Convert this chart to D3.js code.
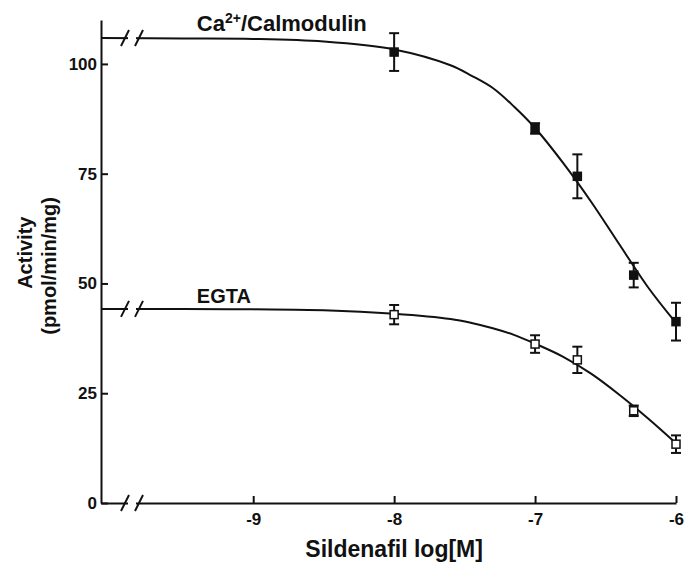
<!DOCTYPE html>
<html>
<head>
<meta charset="utf-8">
<script src="https://cdn.jsdelivr.net/npm/d3@7"></script>
<style>
  body { margin: 0; background: #fff; }
  text { font-family: "Liberation Sans", Arial, sans-serif; font-weight: bold; fill: #111; }
  .axis path, .axis line { stroke: #111; stroke-width: 2; }
</style>
</head>
<body>
<div id="chart"></div>
<script>
// Set chart parameters
var svgWidth = 696;
var svgHeight = 569;

var margin = { top: 20, right: 20, bottom: 66, left: 101 };

var width = svgWidth - margin.left - margin.right;
var height = svgHeight - margin.top - margin.bottom;

// data (log[M] vs activity)
var doses = [-8, -7, -6.7, -6.3, -6];
var caMean = [102.7, 85.3, 74.4, 51.9, 41.3];
var caErr = [4.3, 1.2, 5.0, 2.8, 4.3];
var egtaMean = [42.9, 36.2, 32.6, 21.0, 13.4];
var egtaErr = [2.2, 2.0, 3.0, 1.2, 2.0];

// fitted curves
var fitX = [-10.08, -9.5, -9, -8.5, -8, -7.6, -7.45, -7.3, -7.15, -7, -6.8, -6.6, -6.4, -6.2, -6];
var caFit = [105.9, 105.8, 105.7, 105.1, 103.3, 99.7, 97.3, 94.5, 90.3, 85.4, 77.4, 68.5, 58.8, 49.2, 41.0];
var egtaFit = [44.2, 44.2, 44.1, 43.9, 43.1, 41.9, 41.0, 39.8, 38.3, 36.3, 33.3, 29.4, 24.6, 19.3, 13.6];

var xTicks = [-9, -8, -7, -6];
var yTicks = [0, 25, 50, 75, 100];

var svg = d3.select("#chart")
    .append("svg")
    .attr("width", svgWidth)
    .attr("height", svgHeight);

var chartGroup = svg.append("g")
    .attr("transform", `translate(${margin.left}, ${margin.top})`);

// scales
var xScale = d3.scaleLinear()
    .domain([-10.08, -6])
    .range([0, width]);

var yScale = d3.scaleLinear()
    .domain([0, 110])
    .range([height, 0]);

// axes
var bottomAxis = d3.axisBottom(xScale)
    .tickValues(xTicks)
    .tickFormat(d => String(d))
    .tickSizeInner(-7)
    .tickSizeOuter(0)
    .tickPadding(10);

var leftAxis = d3.axisLeft(yScale)
    .tickValues(yTicks)
    .tickSizeInner(-7)
    .tickSizeOuter(0)
    .tickPadding(4);

chartGroup.append("g")
    .attr("class", "axis")
    .attr("transform", `translate(0, ${height})`)
    .call(bottomAxis)
    .attr("font-size", 17)
    .attr("font-family", null);

chartGroup.append("g")
    .attr("class", "axis")
    .call(leftAxis)
    .attr("font-size", 17)
    .attr("font-family", null);

// curves
var line = d3.line()
    .x((d, i) => xScale(fitX[i]))
    .y(d => yScale(d))
    .curve(d3.curveCatmullRom.alpha(0.5));

[caFit, egtaFit].forEach(function(fit) {
    chartGroup.append("path")
        .attr("d", line(fit))
        .attr("fill", "none")
        .attr("stroke", "#111")
        .attr("stroke-width", 2);
});

// axis breaks (//)
var breakX = xScale(-9.86);
function drawBreak(cy) {
    chartGroup.append("rect")
        .attr("x", breakX - 4)
        .attr("y", cy - 4)
        .attr("width", 8)
        .attr("height", 8)
        .attr("fill", "#fff");
    [-7, 7].forEach(function(off) {
        chartGroup.append("line")
            .attr("x1", breakX + off - 4).attr("y1", cy + 8)
            .attr("x2", breakX + off + 4).attr("y2", cy - 8)
            .attr("stroke", "#111")
            .attr("stroke-width", 2);
    });
}
drawBreak(yScale(caFit[0]));
drawBreak(yScale(egtaFit[0]));
drawBreak(height);

// error bars + markers
function drawSeries(means, errs, filled) {
    var g = chartGroup.append("g");
    doses.forEach(function(x, i) {
        var cx = xScale(x);
        var y1 = yScale(means[i] + errs[i]);
        var y2 = yScale(means[i] - errs[i]);
        g.append("line").attr("x1", cx).attr("x2", cx).attr("y1", y1).attr("y2", y2)
            .attr("stroke", "#111").attr("stroke-width", 2);
        [y1, y2].forEach(function(y) {
            g.append("line").attr("x1", cx - 5).attr("x2", cx + 5).attr("y1", y).attr("y2", y)
                .attr("stroke", "#111").attr("stroke-width", 2);
        });
    });
    g.selectAll("rect")
        .data(means)
        .enter()
        .append("rect")
        .attr("x", (d, i) => xScale(doses[i]) - 4)
        .attr("y", d => yScale(d) - 4)
        .attr("width", 8)
        .attr("height", 8)
        .attr("fill", filled ? "#111" : "#fff")
        .attr("stroke", "#111")
        .attr("stroke-width", 1.5);
}
drawSeries(caMean, caErr, true);
drawSeries(egtaMean, egtaErr, false);

// series labels
var caLabel = chartGroup.append("text")
    .attr("x", xScale(-9.4))
    .attr("y", yScale(107.6))
    .attr("font-size", "22px");
caLabel.append("tspan").text("Ca");
caLabel.append("tspan").text("2+").attr("font-size", "14px").attr("dy", -8);
caLabel.append("tspan").text("/Calmodulin").attr("dy", 8);

chartGroup.append("text")
    .attr("x", xScale(-9.4))
    .attr("y", yScale(45.6))
    .attr("font-size", "20px")
    .text("EGTA");

// axis labels
chartGroup.append("text")
    .attr("transform", "rotate(-90)")
    .attr("x", 0 - yScale(57))
    .attr("y", -margin.left + 32)
    .attr("text-anchor", "middle")
    .attr("font-size", "20px")
    .text("Activity");

chartGroup.append("text")
    .attr("transform", "rotate(-90)")
    .attr("x", 0 - yScale(54))
    .attr("y", -margin.left + 56)
    .attr("text-anchor", "middle")
    .attr("font-size", "20px")
    .text("(pmol/min/mg)");

chartGroup.append("text")
    .attr("x", xScale(-8))
    .attr("y", height + 54)
    .attr("text-anchor", "middle")
    .attr("font-size", "23px")
    .text("Sildenafil log[M]");
</script>
</body>
</html>
